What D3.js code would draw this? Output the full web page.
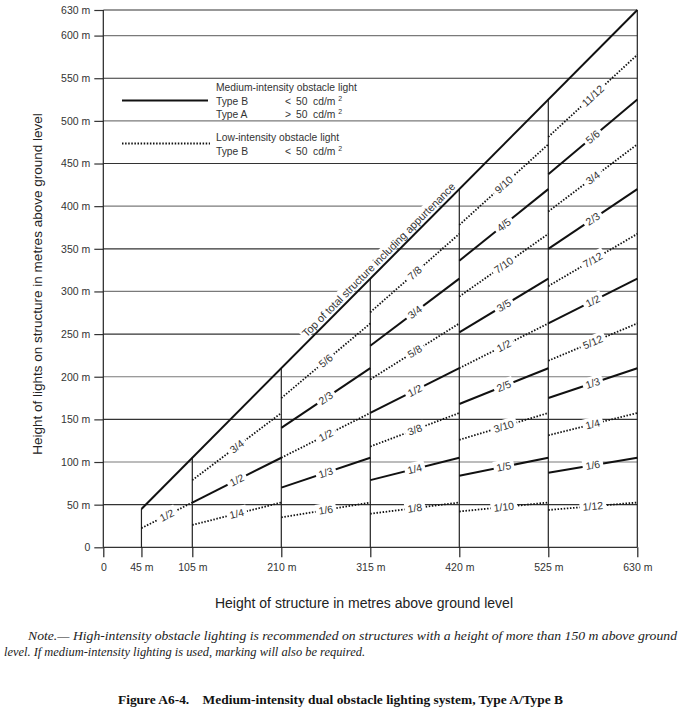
<!DOCTYPE html>
<html><head><meta charset="utf-8">
<script src="https://cdn.jsdelivr.net/npm/d3@7"></script>
<style>body{margin:0;background:#fff}svg{display:block}</style>
</head><body>
<svg id="chart" width="694" height="722"></svg>
<script>
// ---- data ----
const xTicks = [0, 45, 105, 210, 315, 420, 525, 630];
const xTickLabels = ["0", "45 m", "105 m", "210 m", "315 m", "420 m", "525 m", "630 m"];
const yTicks = [0, 50, 100, 150, 200, 250, 300, 350, 400, 450, 500, 550, 600, 630];
const yTickLabels = ["0", "50 m", "100 m", "150 m", "200 m", "250 m", "300 m", "350 m", "400 m", "450 m", "500 m", "550 m", "600 m", "630 m"];
const segmentStarts = [45, 105, 210, 315, 420, 525];
const segmentEnds = [105, 210, 315, 420, 525, 630];
// medium-intensity (solid) light fractions of structure height, per segment
const mediumFractions = [[], ["1/2"], ["2/3", "1/3"], ["3/4", "1/2", "1/4"], ["4/5", "3/5", "2/5", "1/5"], ["5/6", "2/3", "1/2", "1/3", "1/6"]];
// low-intensity (dotted) light fractions, per segment
const lowFractions = [["1/2"], ["3/4", "1/4"], ["5/6", "1/2", "1/6"], ["7/8", "5/8", "3/8", "1/8"], ["9/10", "7/10", "1/2", "3/10", "1/10"], ["11/12", "3/4", "7/12", "5/12", "1/4", "1/12"]];
const topLine = [45, 630];
const topLabel = "Top of total structure including appurtenance";

const svg = d3.select("#chart");
const sans = "'Liberation Sans', Arial, sans-serif";
const serif = "'Liberation Serif', 'Times New Roman', serif";
const x = d3.scaleLinear().domain([0, 630]).range([103.3, 637.3]);
const y = d3.scaleLinear().domain([0, 630]).range([547.3, 10]);
const frac = s => { const [a, b] = s.split("/").map(Number); return a / b; };

// gridlines
svg.append("g").selectAll("line").data(yTicks).join("line")
  .attr("x1", x(0)).attr("x2", x(630))
  .attr("y1", d => y(d)).attr("y2", d => y(d))
  .attr("stroke", d => (d % 100 === 0 && d > 0) ? "#7a7a7a" : "#333").attr("stroke-width", 1.2);

// y axis (ticks + labels)
const yAxis = d3.axisLeft(y).tickValues(yTicks).tickFormat((d, i) => yTickLabels[i]).tickSize(9).tickPadding(4);
const gy = svg.append("g").attr("transform", `translate(${x(0)},0)`).call(yAxis);
gy.select(".domain").remove();
gy.selectAll(".tick line").attr("stroke", "#333").attr("stroke-width", 1.2);
gy.selectAll(".tick text").attr("font-family", sans).attr("font-size", 10.5).attr("fill", "#333");

// x axis ticks (extend below) + labels
const xAxis = d3.axisBottom(x).tickValues(xTicks).tickFormat((d, i) => xTickLabels[i]).tickSize(10).tickPadding(6);
const gx = svg.append("g").attr("transform", `translate(0,${y(0)})`).call(xAxis);
gx.select(".domain").remove();
gx.selectAll(".tick line").attr("stroke", "#222").attr("stroke-width", 1.2);
gx.selectAll(".tick text").attr("font-family", sans).attr("font-size", 10.5).attr("fill", "#333");

// vertical lines: frame left/right and segment boundaries up to top line
const verts = xTicks.map(v => ({ v, top: (v === 0 || v === 630) ? 630 : v }));
svg.append("g").selectAll("line").data(verts).join("line")
  .attr("x1", d => x(d.v)).attr("x2", d => x(d.v))
  .attr("y1", y(0)).attr("y2", d => y(d.top))
  .attr("stroke", "#222").attr("stroke-width", 1.2);

// build light lines
const lights = [];
segmentStarts.forEach((s, i) => {
  const e = segmentEnds[i];
  mediumFractions[i].forEach(f => lights.push({ s, e, f: frac(f), label: f, solid: true }));
  lowFractions[i].forEach(f => lights.push({ s, e, f: frac(f), label: f, solid: false }));
});

const lineG = svg.append("g");
lineG.selectAll("line").data(lights).join("line")
  .attr("x1", d => x(d.s)).attr("y1", d => y(d.f * d.s))
  .attr("x2", d => x(d.e)).attr("y2", d => y(d.f * d.e))
  .attr("stroke", "#111")
  .attr("stroke-width", d => d.solid ? 2 : 1.8)
  .attr("stroke-dasharray", d => d.solid ? null : "1.5,1.6");

// fraction labels
const labG = svg.append("g");
lights.forEach(d => {
  const m = (d.s + d.e) / 2;
  const px = x(m), py = y(d.f * m);
  const ang = Math.atan2(y(d.f * d.e) - y(d.f * d.s), x(d.e) - x(d.s)) * 180 / Math.PI;
  const g = labG.append("g").attr("transform", `translate(${px},${py}) rotate(${ang})`);
  const rect = g.append("rect").attr("fill", "#fff");
  const t = g.append("text").text(d.label)
    .attr("font-family", sans).attr("font-size", 10.5).attr("fill", "#333")
    .attr("text-anchor", "middle").attr("dy", "0.35em");
  const bb = t.node().getBBox();
  rect.attr("x", bb.x - 3).attr("y", bb.y - 0.5).attr("width", bb.width + 6).attr("height", bb.height + 1);
});

// top label (with white background covering gridlines), then top line
{
  const m = 331;
  const px = x(m), py = y(m);
  const ang = Math.atan2(y(topLine[1]) - y(topLine[0]), x(topLine[1]) - x(topLine[0])) * 180 / Math.PI;
  const g = svg.append("g").attr("transform", `translate(${px},${py}) rotate(${ang})`);
  const rect = g.append("rect").attr("fill", "#fff");
  const t = g.append("text").text(topLabel)
    .attr("font-family", sans).attr("font-size", 11).attr("fill", "#333")
    .attr("text-anchor", "middle").attr("y", -3.5).attr("textLength", 212).attr("lengthAdjust", "spacingAndGlyphs");
  const bb = t.node().getBBox();
  rect.attr("x", bb.x - 2).attr("y", bb.y - 1).attr("width", bb.width + 4).attr("height", bb.height);
}
svg.append("line")
  .attr("x1", x(topLine[0])).attr("y1", y(topLine[0]))
  .attr("x2", x(topLine[1])).attr("y2", y(topLine[1]))
  .attr("stroke", "#111").attr("stroke-width", 2);

// legend
const lg = svg.append("g").attr("font-family", sans).attr("font-size", 10.3).attr("fill", "#333");
lg.append("line").attr("x1", 122).attr("x2", 208).attr("y1", 100.5).attr("y2", 100.5).attr("stroke", "#111").attr("stroke-width", 2);
lg.append("line").attr("x1", 122).attr("x2", 210).attr("y1", 143.5).attr("y2", 143.5).attr("stroke", "#111").attr("stroke-width", 1.8).attr("stroke-dasharray", "1.5,1.6");
const legendRows = [
  { t: "Medium-intensity obstacle light", y: 90.5 },
  { t: "Type B", y: 104.5, op: "<" },
  { t: "Type A", y: 118, op: ">" },
  { t: "Low-intensity obstacle light", y: 141 },
  { t: "Type B", y: 155, op: "<" }
];
legendRows.forEach(r => {
  lg.append("text").attr("x", 216).attr("y", r.y).text(r.t);
  if (r.op) {
    lg.append("text").attr("x", 285).attr("y", r.y).text(r.op);
    lg.append("text").attr("x", 296).attr("y", r.y).text("50");
    const c = lg.append("text").attr("x", 313).attr("y", r.y).attr("xml:space", "preserve").text("cd/m ");
    c.append("tspan").attr("font-size", 7).attr("dy", -4).text("2");
  }
});

// axis titles
svg.append("text").attr("x", 364).attr("y", 607.5).attr("text-anchor", "middle")
  .attr("font-family", sans).attr("font-size", 14).attr("fill", "#222")
  .text("Height of structure in metres above ground level");
svg.append("text").attr("transform", "translate(42,284) rotate(-90)").attr("text-anchor", "middle")
  .attr("font-family", sans).attr("font-size", 13.5).attr("fill", "#222")
  .text("Height of lights on structure in metres above ground level");

// note
svg.append("text").attr("x", 28).attr("y", 640).attr("font-family", serif).attr("font-style", "italic")
  .attr("font-size", 13.3).attr("fill", "#222").attr("textLength", 649).attr("lengthAdjust", "spacingAndGlyphs")
  .text("Note.\u2014 High-intensity obstacle lighting is recommended on structures with a height of more than 150 m above ground");
svg.append("text").attr("x", 4).attr("y", 656).attr("font-family", serif).attr("font-style", "italic")
  .attr("font-size", 13.3).attr("fill", "#222").attr("textLength", 361).attr("lengthAdjust", "spacingAndGlyphs")
  .text("level. If medium-intensity lighting is used, marking will also be required.");

// caption
svg.append("text").attr("x", 118).attr("y", 704).attr("font-family", serif).attr("font-weight", "bold")
  .attr("font-size", 12).attr("fill", "#111").attr("xml:space", "preserve").attr("textLength", 445).attr("lengthAdjust", "spacingAndGlyphs")
  .text("Figure A6-4.    Medium-intensity dual obstacle lighting system, Type A/Type B");
</script>
</body></html>
